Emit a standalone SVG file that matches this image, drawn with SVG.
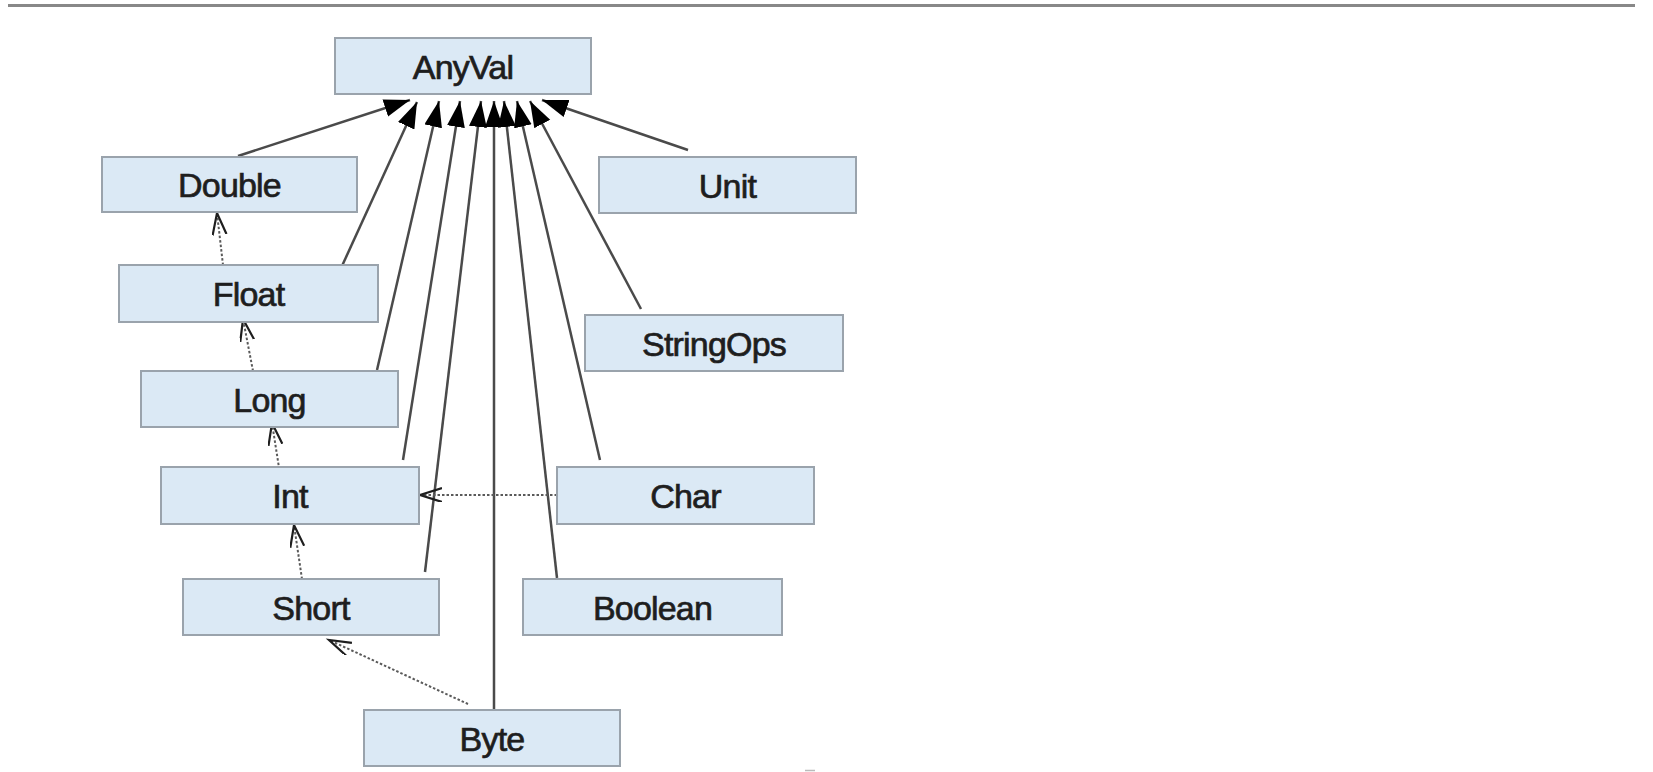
<svg xmlns="http://www.w3.org/2000/svg" width="1653" height="772" viewBox="0 0 1653 772">
<style>
.box{fill:#dbe9f5;stroke:#9aa3ac;stroke-width:2}
.lbl{font-family:"Liberation Sans",Arial,sans-serif;font-size:34px;letter-spacing:-0.8px;fill:#1e1e1e;stroke:#1e1e1e;stroke-width:0.7px;text-anchor:middle}
.solid{stroke:#4a4a4a;stroke-width:2.5;fill:none}
.dash{stroke:#5a5a5a;stroke-width:2;stroke-dasharray:2.5 2;fill:none}
</style>
<defs>
<marker id="tri" markerUnits="userSpaceOnUse" markerWidth="28" markerHeight="20" refX="26" refY="9" orient="auto">
<path d="M0,0 L26,9 L0,18 z" fill="#000"/>
</marker>
<marker id="open" markerUnits="userSpaceOnUse" markerWidth="26" markerHeight="16" refX="22" refY="7" orient="auto">
<path d="M0,0 L22,7 L0,14" fill="none" stroke="#1e1e1e" stroke-width="2.2"/>
</marker>
</defs>
<rect width="1653" height="772" fill="#fff"/>
<line x1="8" y1="5.5" x2="1635" y2="5.5" stroke="#888" stroke-width="3"/>
<line x1="805" y1="770.5" x2="815" y2="770.5" stroke="#bbb" stroke-width="1.5"/>
<g id="connectors">
<path class="solid" d="M238,156 L410,100" marker-end="url(#tri)"/>
<path class="solid" d="M342,266 L417,102" marker-end="url(#tri)"/>
<path class="solid" d="M377,370 L439,101" marker-end="url(#tri)"/>
<path class="solid" d="M403,460 L460,101" marker-end="url(#tri)"/>
<path class="solid" d="M425,572 L481,101" marker-end="url(#tri)"/>
<path class="solid" d="M494,710 L494,101" marker-end="url(#tri)"/>
<path class="solid" d="M557,578 L504,101" marker-end="url(#tri)"/>
<path class="solid" d="M600,460 L517,101" marker-end="url(#tri)"/>
<path class="solid" d="M641,309 L530,101" marker-end="url(#tri)"/>
<path class="solid" d="M688,150 L542,100" marker-end="url(#tri)"/>
<path class="dash" d="M223,265 L217,213" marker-end="url(#open)"/>
<path class="dash" d="M253,371 L243,319" marker-end="url(#open)"/>
<path class="dash" d="M280,474 L272,423" marker-end="url(#open)"/>
<path class="dash" d="M302,579 L294,525" marker-end="url(#open)"/>
<path class="dash" d="M468,704 L329,640" marker-end="url(#open)"/>
<path class="dash" d="M557,495 L420,495" marker-end="url(#open)"/>
</g>
<g id="AnyVal"><rect class="box" x="335" y="38" width="256" height="56"/><text class="lbl" x="463" y="78.5">AnyVal</text></g>
<g id="Double"><rect class="box" x="102" y="157" width="255" height="55"/><text class="lbl" x="229.5" y="197">Double</text></g>
<g id="Unit"><rect class="box" x="599" y="157" width="257" height="56"/><text class="lbl" x="727.5" y="197.5">Unit</text></g>
<g id="Float"><rect class="box" x="119" y="265" width="259" height="57"/><text class="lbl" x="248.5" y="306">Float</text></g>
<g id="StringOps"><rect class="box" x="585" y="315" width="258" height="56"/><text class="lbl" x="714" y="355.5">StringOps</text></g>
<g id="Long"><rect class="box" x="141" y="371" width="257" height="56"/><text class="lbl" x="269.5" y="411.5">Long</text></g>
<g id="Int"><rect class="box" x="161" y="467" width="258" height="57"/><text class="lbl" x="290" y="508">Int</text></g>
<g id="Char"><rect class="box" x="557" y="467" width="257" height="57"/><text class="lbl" x="685.5" y="508">Char</text></g>
<g id="Short"><rect class="box" x="183" y="579" width="256" height="56"/><text class="lbl" x="311" y="619.5">Short</text></g>
<g id="Boolean"><rect class="box" x="523" y="579" width="259" height="56"/><text class="lbl" x="652.5" y="619.5">Boolean</text></g>
<g id="Byte"><rect class="box" x="364" y="710" width="256" height="56"/><text class="lbl" x="492" y="750.5">Byte</text></g>
</svg>
